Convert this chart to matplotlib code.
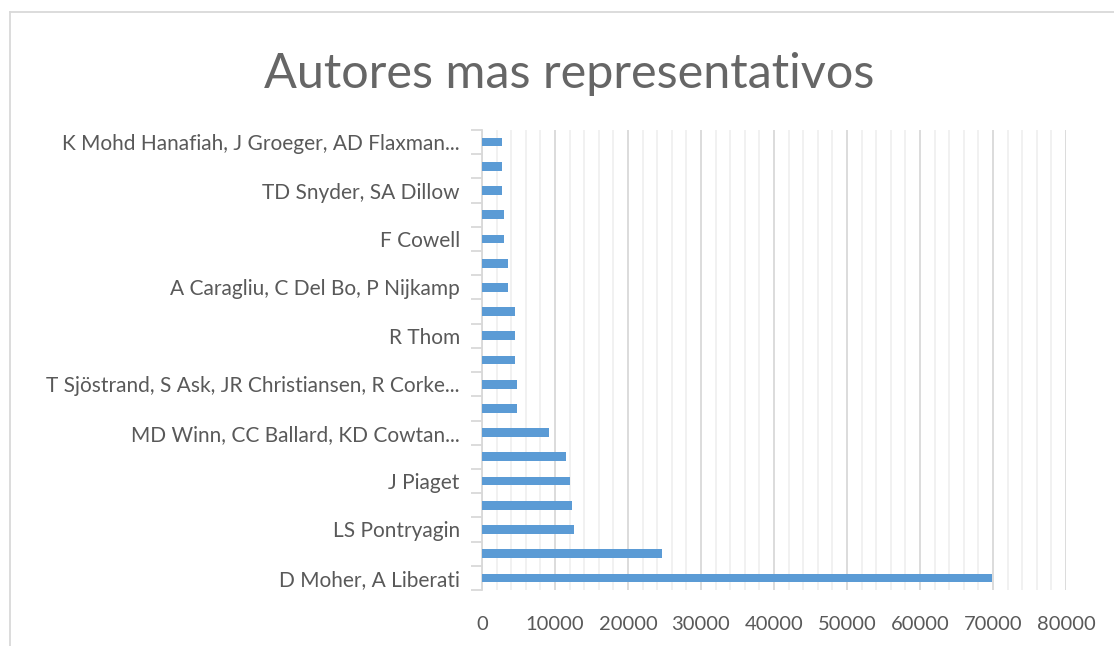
import matplotlib
matplotlib.use("Agg")
import matplotlib.pyplot as plt
from matplotlib.lines import Line2D
from matplotlib.ticker import MultipleLocator, FixedLocator

authors = [
    "D Moher, A Liberati", "", "LS Pontryagin", "", "J Piaget", "",
    "MD Winn, CC Ballard, KD Cowtan...", "", "T Sjöstrand, S Ask, JR Christiansen, R Corke...", "",
    "R Thom", "", "A Caragliu, C Del Bo, P Nijkamp", "", "F Cowell", "",
    "TD Snyder, SA Dillow", "", "K Mohd Hanafiah, J Groeger, AD Flaxman...",
]
citations = [69800, 24650, 12660, 12350, 12070, 11520, 9150, 4760, 4760, 4480,
             4480, 4480, 3610, 3610, 3020, 3020, 2700, 2700, 2700]
x_ticks = [0, 10000, 20000, 30000, 40000, 50000, 60000, 70000, 80000]
title = "Autores mas representativos"

W, H = 1114, 646
fig = plt.figure(figsize=(W / 100, H / 100), dpi=100)
fig.patch.set_facecolor("white")

# chart frame (left and top edges visible)
fx, fy = 9.5 / W, 1 - 11.5 / H
fig.add_artist(Line2D([fx, fx], [0, fy], transform=fig.transFigure, color="#d9d9d9", linewidth=1.3))
fig.add_artist(Line2D([fx, 1], [fy, fy], transform=fig.transFigure, color="#d9d9d9", linewidth=1.3))

left, right, top, bottom = 482, 1066, 130, 590
ax = fig.add_axes([left / W, 1 - bottom / H, (right - left) / W, (bottom - top) / H])

txt = "#595959"
y = list(range(len(citations)))
ax.barh(y, citations, height=0.36, color="#5b9bd5", zorder=3)

ax.set_xlim(0, 80000)
ax.set_ylim(-0.5, len(citations) - 0.5)
ax.xaxis.set_major_locator(FixedLocator(x_ticks))
ax.xaxis.set_minor_locator(MultipleLocator(2000))
ax.grid(axis="x", which="major", color="#d9d9d9", linewidth=1.3, zorder=0)
ax.grid(axis="x", which="minor", color="#f0f0f0", linewidth=1.3, zorder=0)

ax.set_yticks(y)
ax.set_yticklabels(authors)
ax.yaxis.set_minor_locator(FixedLocator([i - 0.5 for i in range(len(citations) + 1)]))

font = "Lato"
ax.tick_params(axis="y", which="major", length=0, pad=16, labelsize=15, labelcolor=txt)
ax.tick_params(axis="y", which="minor", length=8, color="#d9d9d9", width=1.3)
ax.tick_params(axis="x", which="both", length=0, pad=19, labelsize=14.5, labelcolor=txt)
for lab in ax.get_xticklabels() + ax.get_yticklabels():
    lab.set_fontfamily(font)

for s in ["top", "right", "bottom"]:
    ax.spines[s].set_visible(False)
ax.spines["left"].set_color("#d9d9d9")
ax.spines["left"].set_linewidth(1.3)

fig.text(569 / W, 1 - 74 / H, title, ha="center", va="center", fontsize=35,
         color="#666666", fontfamily=font, fontweight="normal")

fig.savefig("out.png", dpi=100)
